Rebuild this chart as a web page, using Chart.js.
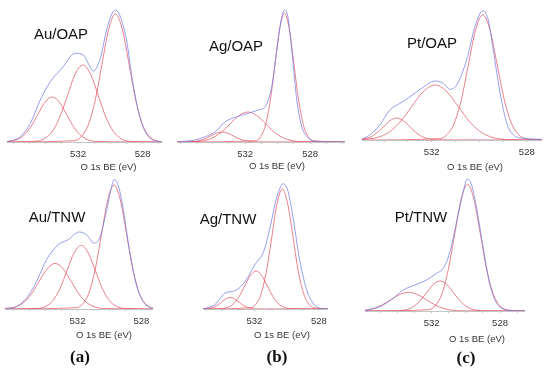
<!DOCTYPE html>
<html>
<head>
<meta charset="utf-8">
<script src="https://cdn.jsdelivr.net/npm/chart.js@4.4.1/dist/chart.umd.min.js"></script>
<style>
  body { margin: 0; background: #fff; }
  #fig { position: relative; width: 550px; height: 372px; overflow: hidden; font-family: 'Liberation Sans', Arial, sans-serif; }
  .panel { position: absolute; }
  .txt { position: absolute; transform: translate(-50%, -50%); white-space: nowrap; }
  .name { font-size: 15px; color: #111; }
  .axtitle { font-size: 9.5px; color: #333; }
  .tag { font-family: 'Liberation Serif', 'DejaVu Serif', serif; font-weight: bold; font-size: 17px; color: #111; }
</style>
</head>
<body>
<div id="fig"></div>
<script>
// O 1s spectra: binding energy (eV) and intensity (arb. units)
// tick positions on the BE axis
const minorTicks = [537, 536, 535, 534, 533, 532, 531, 530, 529, 528, 527, 526];
const labeledTicks = [532, 528];

// ---- Au/OAP ----
const auOapBE = [536.39, 535.57, 534.95, 534.34, 533.72, 533.0, 532.18, 531.67, 531.37, 531.06, 530.65, 530.23, 529.93, 529.68, 529.42, 529.0, 528.6, 528.18, 527.77, 527.37, 526.8];
const auOapEnv = [0.3, 5.3, 18.7, 42, 60.3, 73.7, 88.7, 87, 78.7, 71, 82, 112, 127, 132, 127, 102, 58.7, 25.3, 8.3, 2, 0];
const auOapP1BE = [536.4, 532.20, 531.78, 531.36, 530.94, 530.52, 530.10, 529.68, 529.26, 528.84, 528.42, 528.00, 527.58, 527.16, 526.8];
const auOapP1 = [0, 1.4, 5.6, 17.3, 41.6, 77.7, 112.9, 128, 112.9, 77.7, 41.6, 17.3, 5.6, 1.4, 0];
const auOapP2BE = [536.4, 534.55, 534.08, 533.60, 533.13, 532.65, 532.18, 531.70, 531.23, 530.75, 530.28, 529.80, 529.33, 528.85, 526.8];
const auOapP2 = [0, 0.8, 3.4, 10.4, 25.0, 46.7, 67.9, 77, 67.9, 46.7, 25.0, 10.4, 3.4, 0.8, 0];
const auOapP3BE = [536.4, 535.85, 535.40, 534.95, 534.50, 534.05, 533.60, 533.15, 532.70, 532.25, 531.80, 531.35, 530.90, 526.8];
const auOapP3 = [0.4, 2.0, 6.1, 14.6, 27.3, 39.7, 45, 39.7, 27.3, 14.6, 6.1, 2.0, 0.5, 0];

// ---- Ag/OAP ----
const agOapBE = [536.1, 535.08, 534.46, 533.85, 533.23, 532.51, 531.8, 531.18, 530.77, 530.36, 530.05, 529.78, 529.58, 529.37, 529.13, 528.82, 528.51, 528.1, 527.49, 525.85];
const agOapEnv = [0.3, 2, 5.3, 10.3, 20.3, 25.3, 28.7, 32, 35.3, 55.3, 92, 122, 132, 125.3, 92, 42, 15.3, 3.7, 0.3, 0];
const agOapP1BE = [536.2, 531.32, 531.03, 530.74, 530.45, 530.16, 529.87, 529.58, 529.29, 529.00, 528.71, 528.42, 528.13, 527.84, 525.85];
const agOapP1 = [0, 1.4, 5.7, 17.4, 41.9, 78.3, 113.8, 129, 113.8, 78.3, 41.9, 17.4, 5.7, 1.4, 0];
const agOapP2BE = [536.2, 535.10, 534.56, 534.01, 533.47, 532.92, 532.38, 531.83, 531.29, 530.74, 530.20, 529.65, 529.11, 528.56, 525.85];
const agOapP2 = [0, 0.3, 1.3, 4.1, 9.8, 18.2, 26.5, 30, 26.5, 18.2, 9.8, 4.1, 1.3, 0.3, 0];
const agOapP3BE = [536.2, 535.53, 535.18, 534.83, 534.48, 534.13, 533.78, 533.43, 533.08, 532.73, 532.38, 532.03, 531.68, 531.33, 525.85];
const agOapP3 = [0, 0.1, 0.4, 1.4, 3.3, 6.1, 8.8, 10, 8.8, 6.1, 3.3, 1.4, 0.4, 0.1, 0];

// ---- Pt/OAP ----
const ptOapBE = [534.93, 534.6, 534.18, 533.76, 533.33, 532.91, 532.42, 531.86, 531.51, 531.23, 530.95, 530.53, 530.18, 529.85, 529.62, 529.41, 529.12, 528.84, 528.56, 528.14, 527.37];
const ptOapEnv = [1, 5, 15, 30, 36.7, 43.3, 51.7, 59, 56.7, 50.7, 55, 80, 113.3, 129.3, 120, 90, 46.7, 16.7, 5, 1.7, 0.7];
const ptOapP1BE = [534.93, 531.65, 531.35, 531.05, 530.75, 530.45, 530.15, 529.85, 529.55, 529.25, 528.95, 528.65, 528.35, 528.05, 527.36];
const ptOapP1 = [0, 1.4, 5.5, 16.9, 40.6, 75.9, 110.3, 125, 110.3, 75.9, 40.6, 16.9, 5.5, 1.4, 0];
const ptOapP2BE = [534.93, 534.31, 533.82, 533.33, 532.84, 532.35, 531.86, 531.37, 530.88, 530.39, 529.90, 529.41, 528.92, 527.36];
const ptOapP2 = [0.5, 2.4, 7.4, 17.9, 33.4, 48.5, 55, 48.5, 33.4, 17.9, 7.4, 2.4, 0.6, 0];
const ptOapP3BE = [534.93, 534.57, 534.30, 534.02, 533.75, 533.47, 533.20, 532.92, 532.65, 532.37, 532.10, 531.82, 527.36];
const ptOapP3 = [0.7, 3.0, 7.2, 13.4, 19.4, 22, 19.4, 13.4, 7.2, 3.0, 1.0, 0.2, 0];

// ---- Au/TNW ----
const auTnwBE = [536.54, 535.81, 535.19, 534.56, 533.94, 533.21, 532.59, 531.9, 531.44, 530.96, 530.61, 530.19, 529.88, 529.71, 529.46, 529.15, 528.73, 528.31, 527.9, 527.48, 527.27];
const auTnwEnv = [0, 2.6, 11, 27.6, 49.3, 64.3, 69.3, 77, 74.3, 66, 71, 97.6, 121, 129.3, 124.3, 101, 57.6, 24.3, 7.6, 1.6, 0];
const auTnwP1BE = [536.54, 532.05, 531.66, 531.27, 530.88, 530.49, 530.10, 529.71, 529.32, 528.93, 528.54, 528.15, 527.76, 527.37, 527.27];
const auTnwP1 = [0, 1.4, 5.5, 16.7, 40.3, 75.3, 109.4, 124, 109.4, 75.3, 40.3, 16.7, 5.5, 1.4, 0.9];
const auTnwP2BE = [536.54, 534.41, 533.97, 533.53, 533.09, 532.65, 532.21, 531.77, 531.33, 530.89, 530.45, 530.01, 529.57, 529.13, 527.27];
const auTnwP2 = [0, 0.7, 2.8, 8.6, 20.7, 38.6, 56.1, 63.6, 56.1, 38.6, 20.7, 8.6, 2.8, 0.7, 0];
const auTnwP3BE = [536.54, 535.9, 535.4, 534.9, 534.4, 533.9, 533.4, 532.9, 532.4, 531.9, 531.4, 530.9, 530.4, 527.27];
const auTnwP3 = [0.4, 2.0, 6.2, 14.8, 27.7, 40.2, 45.6, 40.2, 27.7, 14.8, 6.2, 2.0, 0.5, 0];

// ---- Ag/TNW ----
const agTnwBE = [535.19, 534.45, 533.82, 533.19, 532.57, 531.94, 531.42, 530.99, 530.68, 530.36, 530.22, 529.94, 529.63, 529.21, 528.79, 528.37, 527.96, 527.43];
const agTnwEnv = [0, 4.3, 16, 18.3, 27.6, 45, 57.6, 84.3, 107.6, 122.6, 125.3, 119.3, 94.3, 51, 21, 6, 1, 0];
const agTnwP1BE = [535.19, 532.21, 531.88, 531.56, 531.24, 530.91, 530.59, 530.26, 529.94, 529.61, 529.29, 528.96, 528.64, 528.31, 527.43];
const agTnwP1 = [0, 1.3, 5.3, 16.2, 39.0, 72.8, 105.8, 120, 105.8, 72.8, 39.0, 16.2, 5.3, 1.3, 0];
const agTnwP2BE = [535.19, 534.0, 533.65, 533.3, 532.95, 532.6, 532.25, 531.9, 531.55, 531.2, 530.85, 530.5, 530.15, 529.8, 527.43];
const agTnwP2 = [0, 0.4, 1.7, 5.1, 12.4, 23.1, 33.5, 38, 33.5, 23.1, 12.4, 5.1, 1.7, 0.4, 0];
const agTnwP3BE = [535.19, 534.83, 534.56, 534.3, 534.03, 533.77, 533.5, 533.24, 532.97, 532.71, 532.44, 532.18, 531.91, 527.43];
const agTnwP3 = [0.1, 0.5, 1.6, 3.8, 7.0, 10.2, 11.6, 10.2, 7.0, 3.8, 1.6, 0.5, 0.1, 0];

// ---- Pt/TNW ----
const ptTnwBE = [535.9, 535.02, 534.25, 533.66, 532.98, 532.29, 531.71, 531.32, 530.93, 530.54, 530.15, 529.92, 529.66, 529.37, 528.98, 528.59, 528.2, 527.81, 527.23, 526.54];
const ptTnwEnv = [0, 4.3, 12.7, 21, 26, 31, 37.7, 42.7, 59.3, 89.3, 119.3, 132, 126, 102.7, 62.7, 26, 7.7, 2, 0.3, 0];
const ptTnwP1BE = [535.9, 532.15, 531.78, 531.4, 531.03, 530.65, 530.28, 529.9, 529.53, 529.15, 528.78, 528.4, 528.03, 527.65, 526.54];
const ptTnwP1 = [0, 1.4, 5.6, 17.1, 41.2, 76.9, 111.7, 126.7, 111.7, 76.9, 41.2, 17.1, 5.6, 1.4, 0];
const ptTnwP2BE = [535.9, 533.88, 533.49, 533.09, 532.7, 532.3, 531.91, 531.51, 531.11, 530.72, 530.32, 529.93, 529.53, 529.14, 526.54];
const ptTnwP2 = [0, 0.3, 1.3, 4.1, 9.8, 18.2, 26.5, 30, 26.5, 18.2, 9.8, 4.1, 1.3, 0.3, 0];
const ptTnwP3BE = [535.9, 535.41, 534.9, 534.38, 533.87, 533.35, 532.84, 532.32, 531.81, 531.29, 530.78, 530.26, 526.54];
const ptTnwP3 = [0.9, 2.5, 6.1, 11.4, 16.5, 18.7, 16.5, 11.4, 6.1, 2.5, 0.8, 0.2, 0];

const envColor = 'rgba(115, 125, 230, 0.75)';
const fitColor = 'rgba(225, 75, 90, 0.7)';

// panel layout (pixels) and axis ranges
const panels = [
    { name: 'Au/OAP', left: 7, top: 0, width: 155, height: 166, yMax: 142, beMin: 526.8, beMax: 536.4,
      env: [auOapBE, auOapEnv], peaks: [[auOapP1BE, auOapP1], [auOapP2BE, auOapP2], [auOapP3BE, auOapP3]],
      namePos: [61, 33], titlePos: [108.5, 166] },
    { name: 'Ag/OAP', left: 177, top: 0, width: 168, height: 166, yMax: 142, beMin: 525.85, beMax: 536.2,
      env: [agOapBE, agOapEnv], peaks: [[agOapP1BE, agOapP1], [agOapP2BE, agOapP2], [agOapP3BE, agOapP3]],
      namePos: [236, 45], titlePos: [277, 165] },
    { name: 'Pt/OAP', left: 362, top: 0, width: 180, height: 164, yMax: 140, beMin: 527.36, beMax: 534.93,
      env: [ptOapBE, ptOapEnv], peaks: [[ptOapP1BE, ptOapP1], [ptOapP2BE, ptOapP2], [ptOapP3BE, ptOapP3]],
      namePos: [432, 42], titlePos: [475, 166] },
    { name: 'Au/TNW', left: 5, top: 170, width: 148, height: 163, yMax: 139, beMin: 527.27, beMax: 536.54,
      env: [auTnwBE, auTnwEnv], peaks: [[auTnwP1BE, auTnwP1], [auTnwP2BE, auTnwP2], [auTnwP3BE, auTnwP3]],
      namePos: [57, 216], titlePos: [104, 334] },
    { name: 'Ag/TNW', left: 203, top: 170, width: 125, height: 163, yMax: 139, beMin: 527.43, beMax: 535.19,
      env: [agTnwBE, agTnwEnv], peaks: [[agTnwP1BE, agTnwP1], [agTnwP2BE, agTnwP2], [agTnwP3BE, agTnwP3]],
      namePos: [228, 218], titlePos: [282, 334] },
    { name: 'Pt/TNW', left: 365, top: 170, width: 160, height: 165, yMax: 141, beMin: 526.54, beMax: 535.9,
      env: [ptTnwBE, ptTnwEnv], peaks: [[ptTnwP1BE, ptTnwP1], [ptTnwP2BE, ptTnwP2], [ptTnwP3BE, ptTnwP3]],
      namePos: [421, 216], titlePos: [477, 338] }
];

const tags = [['(a)', 80, 357], ['(b)', 277, 357], ['(c)', 466, 358]];

const fig = document.getElementById('fig');

function addText(cls, text, x, y) {
    const el = document.createElement('div');
    el.className = 'txt ' + cls;
    el.textContent = text;
    el.style.left = x + 'px';
    el.style.top = y + 'px';
    fig.appendChild(el);
}

function toPoints(xs, ys) {
    return xs.map((x, i) => ({ x: x, y: ys[i] }));
}

function lineSet(xs, ys, color) {
    return {
        data: toPoints(xs, ys),
        borderColor: color,
        borderWidth: 1,
        pointRadius: 0,
        fill: false,
        cubicInterpolationMode: 'monotone'
    };
}

Chart.defaults.font.family = "'Liberation Sans', Arial, sans-serif";

panels.forEach((p) => {
    const box = document.createElement('div');
    box.className = 'panel';
    box.style.left = p.left + 'px';
    box.style.top = p.top + 'px';
    const canvas = document.createElement('canvas');
    canvas.width = p.width;
    canvas.height = p.height;
    canvas.style.width = p.width + 'px';
    canvas.style.height = p.height + 'px';
    box.appendChild(canvas);
    fig.appendChild(box);

    const datasets = [lineSet(p.env[0], p.env[1], envColor)];
    p.peaks.forEach((pk) => datasets.push(lineSet(pk[0], pk[1], fitColor)));

    new Chart(canvas, {
        type: 'line',
        data: { datasets: datasets },
        options: {
            responsive: false,
            devicePixelRatio: 1,
            animation: false,
            layout: { padding: 0, autoPadding: false },
            plugins: { legend: { display: false }, tooltip: { enabled: false } },
            scales: {
                x: {
                    type: 'linear',
                    reverse: true,
                    min: p.beMin,
                    max: p.beMax,
                    border: { display: true, color: '#c4c4c4', width: 1 },
                    grid: { drawOnChartArea: false, drawTicks: true, tickLength: 2, color: '#c4c4c4' },
                    ticks: {
                        autoSkip: false,
                        maxRotation: 0,
                        padding: 5,
                        color: '#333',
                        font: { size: 9.5 },
                        callback: (v) => labeledTicks.includes(v) ? String(v) : ''
                    },
                    afterBuildTicks: (scale) => {
                        scale.ticks = minorTicks
                            .filter((v) => v >= scale.min && v <= scale.max)
                            .map((v) => ({ value: v }));
                    },
                    afterFit: (scale) => {
                        scale.height = 24;
                        scale.paddingLeft = 0;
                        scale.paddingRight = 0;
                    }
                },
                y: { display: false, min: 0, max: p.yMax }
            }
        }
    });

    addText('name', p.name, p.namePos[0], p.namePos[1]);
    addText('axtitle', 'O 1s BE (eV)', p.titlePos[0], p.titlePos[1]);
});

tags.forEach((t) => addText('tag', t[0], t[1], t[2]));
</script>
</body>
</html>
